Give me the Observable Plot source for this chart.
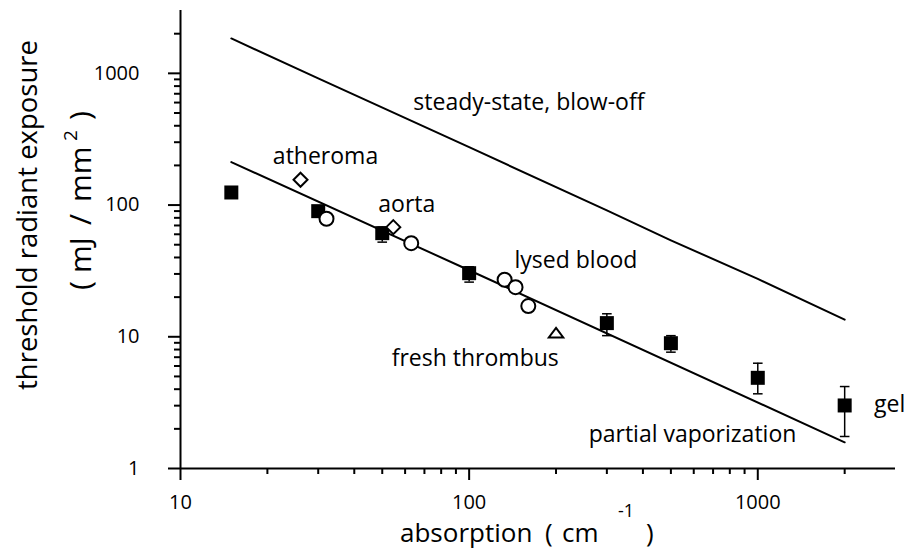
<!DOCTYPE html>
<html>
<head>
<meta charset="utf-8">
<script src="https://cdn.jsdelivr.net/npm/d3@7"></script>
<script src="https://cdn.jsdelivr.net/npm/@observablehq/plot@0.6"></script>
<style>
  html, body { margin: 0; padding: 0; background: #fff; }
  #chart { width: 909px; height: 552px; }
</style>
</head>
<body>
<div id="chart"></div>
<script>
// ---- data ----
const squareX = [15, 30, 50, 100, 300, 500, 1000, 2000];
const squareY = [124.6, 89.9, 61.2, 30.4, 12.7, 8.94, 4.88, 3.01];
const errLo   = [null, null, 52.3, 26.0, 10.2, 7.64, 3.69, 1.75];
const errHi   = [null, null, 68, 34, 14.95, 10.2, 6.3, 4.19];

const circleX = [32.05, 63, 132.7, 144.8, 160.3];
const circleY = [78.7, 51.4, 27.1, 23.8, 17.1];

const diamondX = [26.05, 54.6];
const diamondY = [155.6, 68];

const triangleX = [200];
const triangleY = [10.7];

const upperX = [15, 30, 100, 300, 500, 1000, 2000];
const upperY = [1840, 916, 275, 91, 54, 27.5, 13.5];

const lowerX = [15, 100, 2000];
const lowerY = [212, 32, 1.58];

const labelText = ["steady-state, blow-off", "atheroma", "aorta", "lysed blood", "fresh thrombus", "partial vaporization", "gel"];
const labelX = [161, 31.8, 60.8, 234.5, 105, 594, 2863];
const labelY = [598, 233, 100, 38, 6.84, 1.8, 3.03];

const xMajor = [10, 100, 1000];
const xMinor = [20, 30, 40, 50, 60, 70, 80, 90, 200, 300, 400, 500, 600, 700, 800, 900, 2000];
const yMajor = [1, 10, 100, 1000];
const yMinor = [2, 3, 4, 5, 6, 7, 8, 9, 20, 30, 40, 50, 60, 70, 80, 90, 200, 300, 400, 500, 600, 700, 800, 900, 2000];

// ---- tables ----
const rows = (xs, ys) => xs.map((x, i) => ({x, y: ys[i]}));
const squares = rows(squareX, squareY);
const errs = squareX.map((x, i) => ({x, lo: errLo[i], hi: errHi[i]})).filter(d => d.lo != null);
const circles = rows(circleX, circleY);
const diamonds = rows(diamondX, diamondY);
const triangles = rows(triangleX, triangleY);
const upper = rows(upperX, upperY);
const lower = rows(lowerX, lowerY);
const labels = labelText.map((t, i) => ({t, x: labelX[i], y: labelY[i]}));

const capSymbol = { draw(ctx) { ctx.moveTo(-4.8, 0); ctx.lineTo(4.8, 0); } };
const triSymbol = { draw(ctx) { ctx.moveTo(0, -5); ctx.lineTo(7.2, 4.5); ctx.lineTo(-7.2, 4.5); ctx.closePath(); } };

const svg = Plot.plot({
  width: 909,
  height: 552,
  marginLeft: 180,
  marginRight: 14,
  marginTop: 10,
  marginBottom: 84,
  x: {type: "log", domain: [10, 3000]},
  y: {type: "log", domain: [1, 3000]},
  style: {fontFamily: "'Open Sans', sans-serif", fontSize: "20px", color: "black", background: "white", overflow: "visible"},
  marks: [
    Plot.axisX({ticks: xMinor, tickSize: 6, tickFormat: () => "", label: null, strokeWidth: 2}),
    Plot.axisX({ticks: xMajor, tickSize: 12, tickPadding: 14, tickFormat: d => String(d), label: null, strokeWidth: 2, fontSize: 20}),
    Plot.axisY({ticks: yMinor, tickSize: 6, tickFormat: () => "", label: null, strokeWidth: 2}),
    Plot.axisY({ticks: yMajor, tickSize: 12, tickPadding: 29, tickFormat: d => String(d), label: null, strokeWidth: 2, fontSize: 20}),
    Plot.ruleY([1], {strokeWidth: 2}),
    Plot.ruleX([10], {strokeWidth: 2}),
    Plot.line(upper, {x: "x", y: "y", stroke: "black", strokeWidth: 2}),
    Plot.line(lower, {x: "x", y: "y", stroke: "black", strokeWidth: 2}),
    Plot.ruleX(errs, {x: "x", y1: "lo", y2: "hi", stroke: "black", strokeWidth: 1.5}),
    Plot.dot(errs, {x: "x", y: "lo", symbol: capSymbol, r: 5, fill: "none", stroke: "black", strokeWidth: 1.5}),
    Plot.dot(errs, {x: "x", y: "hi", symbol: capSymbol, r: 5, fill: "none", stroke: "black", strokeWidth: 1.5}),
    Plot.dot(squares, {x: "x", y: "y", symbol: "square", r: 7.9, fill: "black", stroke: "none"}),
    Plot.dot(circles, {x: "x", y: "y", symbol: "circle", r: 7, fill: "white", stroke: "black", strokeWidth: 2}),
    Plot.dot(diamonds, {x: "x", y: "y", symbol: d3.symbolDiamond2, r: 6.3, fill: "white", stroke: "black", strokeWidth: 2}),
    Plot.dot(triangles, {x: "x", y: "y", symbol: triSymbol, r: 5, fill: "white", stroke: "black", strokeWidth: 2}),
    Plot.text(labels, {x: "x", y: "y", text: "t", fontSize: 23, fill: "black"})
  ]
});

document.getElementById("chart").appendChild(svg);

// ---- axis titles with superscripts ----
const s = d3.select(svg);
const xt = s.append("text")
  .attr("y", 542)
  .attr("text-anchor", "start")
  .attr("font-family", "'Open Sans', sans-serif")
  .attr("font-size", 26)
  .attr("fill", "black");
xt.append("tspan").attr("x", 400).text("absorption");
xt.append("tspan").attr("x", 545).text("(");
xt.append("tspan").attr("x", 562).text("cm");
xt.append("tspan").attr("x", 618).attr("y", 517).attr("font-size", 18).text("-1");
xt.append("tspan").attr("x", 646).attr("y", 542).text(")");

s.append("text")
  .attr("transform", "translate(37,215) rotate(-90)")
  .attr("text-anchor", "middle")
  .attr("font-family", "'Open Sans', sans-serif")
  .attr("font-size", 27.5)
  .attr("fill", "black")
  .text("threshold radiant exposure");

const yt = s.append("text")
  .attr("transform", "translate(91,290) rotate(-90)")
  .attr("text-anchor", "start")
  .attr("font-family", "'Open Sans', sans-serif")
  .attr("font-size", 30)
  .attr("fill", "black");
yt.append("tspan").attr("x", 0).attr("y", 0).text("(");
yt.append("tspan").attr("x", 17).attr("y", 0).text("mJ");
yt.append("tspan").attr("x", 65).attr("y", 0).text("/");
yt.append("tspan").attr("x", 88).attr("y", 0).text("mm");
yt.append("tspan").attr("x", 149).attr("y", -14).attr("font-size", 19).text("2");
yt.append("tspan").attr("x", 170).attr("y", 0).text(")");
</script>
</body>
</html>
